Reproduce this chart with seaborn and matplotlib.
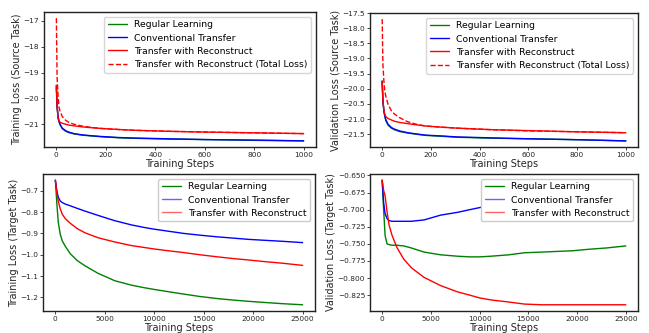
import matplotlib
matplotlib.use("Agg")
import matplotlib.pyplot as plt
import seaborn as sns
import pandas as pd

# ---- data ----
src_steps = [0, 3, 7, 11, 15, 24, 38, 50, 71, 105, 140, 180, 250, 310, 450, 600, 800, 1000]

# training loss, source task
tr_src_regular = [-19.6, -20.35, -20.75, -20.92, -21.02, -21.17, -21.27, -21.32, -21.37, -21.42,
                  -21.45, -21.48, -21.52, -21.54, -21.57, -21.59, -21.62, -21.64]
tr_src_conv = [-19.5, -20.3, -20.7, -20.88, -21.0, -21.15, -21.25, -21.3, -21.36, -21.41,
               -21.44, -21.47, -21.51, -21.53, -21.56, -21.59, -21.61, -21.64]
tr_src_recon = [-19.5, -20.3, -20.78, -20.88, -20.92, -20.96, -21.0, -21.03, -21.06, -21.1,
                -21.13, -21.16, -21.2, -21.23, -21.27, -21.3, -21.33, -21.36]
tr_src_total = [-16.9, -19.2, -19.9, -20.35, -20.5, -20.7, -20.85, -20.92, -21.0, -21.07,
                -21.12, -21.16, -21.2, -21.23, -21.27, -21.3, -21.33, -21.36]

# validation loss, source task
va_src_regular = [-19.75, -20.4, -20.75, -20.92, -21.05, -21.2, -21.3, -21.35, -21.41, -21.46,
                  -21.5, -21.54, -21.57, -21.6, -21.63, -21.65, -21.68, -21.72]
va_src_conv = [-19.75, -20.4, -20.72, -20.9, -21.02, -21.17, -21.28, -21.33, -21.39, -21.45,
               -21.49, -21.53, -21.56, -21.59, -21.62, -21.65, -21.68, -21.72]
va_src_recon = [-19.75, -20.4, -20.7, -20.85, -20.92, -20.98, -21.03, -21.07, -21.11, -21.15,
                -21.19, -21.23, -21.27, -21.3, -21.35, -21.38, -21.42, -21.45]
va_src_total = [-17.7, -19.2, -19.75, -20.08, -20.25, -20.51, -20.73, -20.83, -20.95, -21.09,
                -21.17, -21.23, -21.27, -21.3, -21.35, -21.39, -21.42, -21.45]

tgt_steps = [0, 150, 300, 500, 700, 1000, 1500, 2200, 3000, 4300, 6000, 7700, 9000,
             10000, 11200, 13000, 14600, 16400, 18000, 19600, 21100, 23000, 25000]

# training loss, target task
tr_tgt_regular = [-0.65, -0.76, -0.85, -0.905, -0.935, -0.96, -0.995, -1.027, -1.052, -1.087,
                  -1.122, -1.143, -1.155, -1.163, -1.172, -1.185, -1.196, -1.206, -1.213,
                  -1.219, -1.224, -1.23, -1.235]
tr_tgt_conv = [-0.65, -0.7, -0.73, -0.748, -0.755, -0.762, -0.77, -0.782, -0.795, -0.815,
               -0.84, -0.86, -0.872, -0.88, -0.888, -0.9, -0.908, -0.916, -0.922, -0.928,
               -0.932, -0.937, -0.943]
tr_tgt_recon = [-0.65, -0.71, -0.75, -0.785, -0.81, -0.83, -0.852, -0.877, -0.897, -0.92,
                -0.94, -0.957, -0.966, -0.973, -0.98, -0.99, -1.0, -1.01, -1.018, -1.025,
                -1.032, -1.04, -1.05]

# validation loss, target task
va_tgt_regular = [-0.657, -0.7, -0.738, -0.75, -0.751, -0.752, -0.752, -0.753, -0.756, -0.762,
                  -0.766, -0.768, -0.769, -0.769, -0.768, -0.766, -0.763, -0.762, -0.761,
                  -0.76, -0.758, -0.756, -0.753]
va_tgt_conv = [-0.657, -0.69, -0.706, -0.713, -0.716, -0.717, -0.717, -0.717, -0.717, -0.715,
               -0.708, -0.704, -0.7, -0.697, -0.694, -0.69, -0.686, -0.683, -0.68, -0.678,
               -0.676, -0.674, -0.672]
va_tgt_recon = [-0.657, -0.672, -0.68, -0.703, -0.722, -0.737, -0.755, -0.772, -0.785, -0.799,
                -0.811, -0.82, -0.825, -0.829, -0.832, -0.835, -0.838, -0.839, -0.839,
                -0.839, -0.839, -0.839, -0.839]

labels = ["Regular Learning", "Conventional Transfer", "Transfer with Reconstruct",
          "Transfer with Reconstruct (Total Loss)"]
colors = ["green", "blue", "red", "red"]

sns.set_style("ticks")
plt.rcParams.update({
    "font.family": ["DejaVu Sans"],
    "xtick.labelsize": 5.3,
    "ytick.labelsize": 5.3,
    "axes.labelsize": 7,
    "legend.fontsize": 6.7,
    "xtick.major.size": 2,
    "ytick.major.size": 2,
    "xtick.major.width": 0.6,
    "ytick.major.width": 0.6,
    "xtick.major.pad": 1.5,
    "ytick.major.pad": 1.5,
    "axes.linewidth": 1.0,
    "axes.edgecolor": "#222222",
})

fig = plt.figure(figsize=(6.49, 3.33), dpi=100)
W, H = 649, 333


def box(l, t, r, b):
    return [l / W, 1 - b / H, (r - l) / W, (b - t) / H]


panels = [
    (box(44, 12, 316, 147), src_steps, [tr_src_regular, tr_src_conv, tr_src_recon, tr_src_total],
     "Training Loss (Source Task)", None),
    (box(370, 13, 638, 147), src_steps, [va_src_regular, va_src_conv, va_src_recon, va_src_total],
     "Validation Loss (Source Task)", [-17.5, -18, -18.5, -19, -19.5, -20, -20.5, -21, -21.5]),
    (box(43, 174, 315, 311), tgt_steps, [tr_tgt_regular, tr_tgt_conv, tr_tgt_recon],
     "Training Loss (Target Task)", None),
    (box(370, 174, 638, 311), tgt_steps, [va_tgt_regular, va_tgt_conv, va_tgt_recon],
     "Validation Loss (Target Task)", None),
]

for i, (pos, steps, series, ylab, yt) in enumerate(panels):
    ax = fig.add_axes(pos)
    for j, vals in enumerate(series):
        df = pd.DataFrame({"step": steps, "loss": vals})
        sns.lineplot(data=df, x="step", y="loss", ax=ax, color=colors[j], label=labels[j],
                     linewidth=1.0, linestyle="--" if j == 3 else "-", estimator=None)
    ax.set_xlabel("Training Steps", labelpad=0.5)
    ax.set_ylabel(ylab, labelpad=1)
    if yt is not None:
        ax.set_yticks(yt)
        ax.set_yticklabels([f"{v:.1f}".replace("-", "\u2212") for v in yt])
    if i == 3:
        ax.yaxis.set_major_formatter(matplotlib.ticker.FuncFormatter(
            lambda v, p: f"{v:.3f}".replace("-", "\u2212")))
    leg = ax.legend(loc="upper right", framealpha=1.0 if i >= 2 else 0.8,
                    handlelength=2.0, borderpad=0.4, labelspacing=0.45)
    for t in leg.get_texts():
        t.set_color("black")
    if i >= 2:
        for h in leg.get_lines()[1:]:
            h.set_alpha(0.6)

fig.savefig("out.png", dpi=100)
